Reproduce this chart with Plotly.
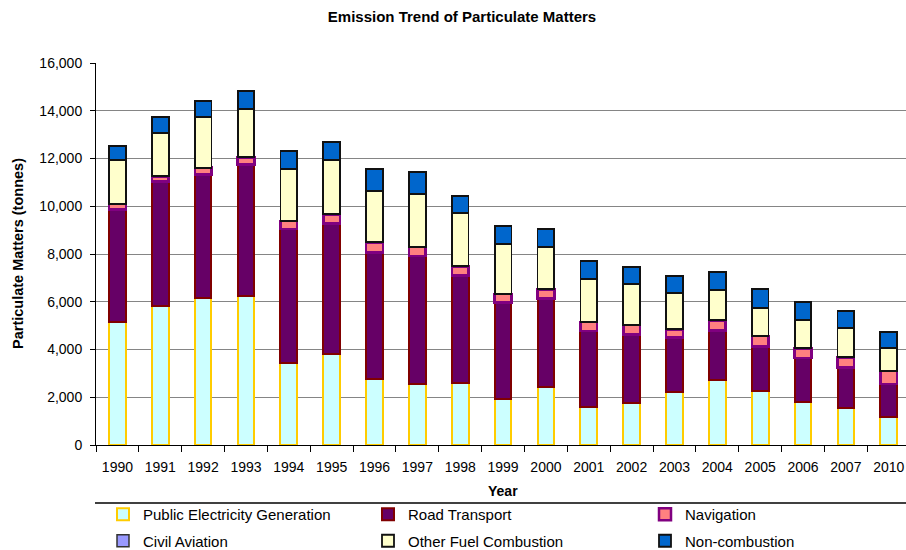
import plotly.graph_objects as go

years = ["1990", "1991", "1992", "1993", "1994", "1995", "1996", "1997", "1998", "1999",
         "2000", "2001", "2002", "2003", "2004", "2005", "2006", "2007", "2010"]

public_electricity = [5140, 5822, 6170, 6227, 3435, 3826, 2764, 2541, 2611, 1927,
                      2415, 1578, 1745, 2234, 2708, 2248, 1787, 1536, 1187]
road_transport = [4730, 5208, 5167, 5529, 5612, 5458, 5306, 5375, 4495, 4035,
                  3714, 3197, 2890, 2262, 2081, 1870, 1857, 1703, 1368]
navigation = [224, 223, 279, 293, 335, 377, 419, 391, 378, 363,
              391, 377, 391, 349, 433, 447, 405, 433, 544]
civil_aviation = [0] * 19
other_fuel = [1831, 1815, 2108, 2010, 2192, 2262, 2164, 2192, 2233, 2079,
              1773, 1815, 1703, 1507, 1256, 1187, 1187, 1214, 964]
non_combustion = [612, 684, 698, 754, 740, 768, 921, 936, 698, 755,
                  754, 726, 726, 741, 782, 796, 767, 727, 656]

series = [
    ("Public Electricity Generation", public_electricity, "#CCFFFF", "#FFCC00", 2, "legend"),
    ("Road Transport", road_transport, "#660066", "#800000", 2, "legend2"),
    ("Navigation", navigation, "#FF8080", "#800080", 2.5, "legend3"),
    ("Civil Aviation", civil_aviation, "#9999FF", "#333333", 1.5, "legend"),
    ("Other Fuel Combustion", other_fuel, "#FFFFCC", "#111111", 1.8, "legend2"),
    ("Non-combustion", non_combustion, "#0066CC", "#111111", 1.8, "legend3"),
]

FONT = "Liberation Sans, Arial, sans-serif"

fig = go.Figure()
for name, vals, fill, line, lw, lg in series:
    fig.add_trace(go.Bar(
        x=years, y=vals, name=name, legendgroup=name, legend=lg,
        marker=dict(color=fill, line=dict(color=line, width=lw)),
    ))

W, H = 906, 550
ml, mt, mr = 96, 63, 0
mb = H - 445
pw = W - ml - mr
ph = H - mt - mb

def px_x(sx):
    return (sx - ml) / pw

def px_y(sy):
    return (H - mb - sy) / ph

legend_common = dict(
    orientation="v", yanchor="top", xanchor="left",
    font=dict(family=FONT, size=15, color="black"),
    bgcolor="rgba(0,0,0,0)", traceorder="grouped", tracegroupgap=4,
    itemclick=False,
)

fig.update_layout(
    width=W, height=H,
    margin=dict(l=ml, r=mr, t=mt, b=mb, autoexpand=False),
    paper_bgcolor="white", plot_bgcolor="white",
    barmode="stack", bargap=0.61,
    font=dict(family=FONT, color="black"),
    title=dict(text="<b>Emission Trend of Particulate Matters</b>",
               x=462 / W, xref="container", xanchor="center",
               y=1 - 17 / H, yref="container", yanchor="middle",
               font=dict(family=FONT, size=15, color="black")),
    xaxis=dict(
        type="category", range=[-0.5, -0.5 + pw / 42.85],
        showline=True, linecolor="black", linewidth=1,
        ticks="outside", ticklen=6, tickcolor="black", tickson="boundaries",
        ticklabelstandoff=9,
        showgrid=False, tickfont=dict(family=FONT, size=14, color="black"),
    ),
    yaxis=dict(
        range=[0, 16000], dtick=2000, tickformat=",",
        showline=True, linecolor="black", linewidth=1,
        ticks="outside", ticklen=5, tickcolor="black", ticklabelstandoff=5,
        showgrid=True, gridcolor="#858585", gridwidth=1, zeroline=False,
        tickfont=dict(family=FONT, size=14, color="black"),
    ),
    legend=dict(x=px_x(103), y=px_y(498), **legend_common),
    legend2=dict(x=px_x(368), y=px_y(498), **legend_common),
    legend3=dict(x=px_x(645), y=px_y(498), **legend_common),
    annotations=[
        dict(text="<b>Particulate Matters (tonnes)</b>", textangle=-90,
             xref="paper", yref="paper", x=px_x(18), y=0.5,
             xanchor="center", yanchor="middle", showarrow=False,
             font=dict(family=FONT, size=14.5, color="black")),
        dict(text="<b>Year</b>", xref="paper", yref="paper",
             x=px_x(503), y=px_y(491), xanchor="center", yanchor="middle",
             showarrow=False, font=dict(family=FONT, size=14, color="black")),
    ],
    shapes=[
        dict(type="line", xref="paper", yref="paper",
             x0=px_x(95), x1=px_x(915), y0=px_y(503), y1=px_y(503),
             line=dict(color="black", width=1.5)),
    ],
)

fig.write_html(
    "out.html",
    config={"displayModeBar": False},
    post_script="document.body.style.margin='0';document.body.style.overflow='hidden';",
)
